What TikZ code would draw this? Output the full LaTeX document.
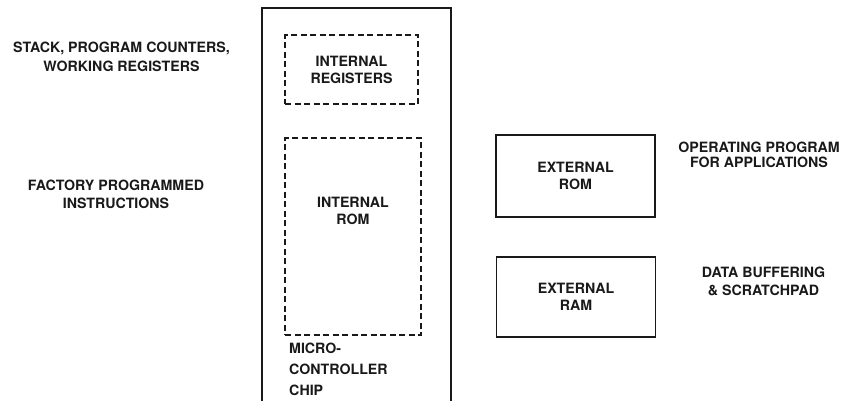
\documentclass[tikz,border=0pt]{standalone}
\usepackage{fontspec}
\setmainfont{TeX Gyre Heros}
\usepackage{tikz}
\usetikzlibrary{positioning}

\begin{document}
\begin{tikzpicture}[
  x=1pt, y=-1pt,
  every node/.style={font=\bfseries\fontsize{14.2}{17}\selectfont, text=black!90, align=center, inner sep=0pt},
  chipbox/.style={draw=black!90, line width=1.6pt, minimum width=189pt, minimum height=420pt},
  membox/.style={draw=black!90, line width=1.6pt, minimum width=159pt, minimum height=81pt},
  intbox/.style={draw=black!90, line width=1.3pt, dash pattern=on 6pt off 3.5pt},
  note/.style={text=black!90}
]
\useasboundingbox (0,0) rectangle (845,400);
\clip (0,0) rectangle (845,400);

% --- Microcontroller chip ---
\node[chipbox] (chip) at (356.5,218) {};
\node[intbox, minimum width=133pt, minimum height=69pt] (intreg) at (351.5,69.5) {INTERNAL\\REGISTERS};
\node[intbox, minimum width=136pt, minimum height=197pt] (introm) at (353,236.5) {};
\node (intromtext) at ([yshift=26pt]introm.center) {INTERNAL\\ROM};
\node[anchor=north west, align=left] (chiplabel) at (289,343) {MICRO-\\[4pt]CONTROLLER\\[4pt]CHIP};

% --- External memory ---
\node[membox, minimum height=82pt] (extrom) at (575.5,176) {EXTERNAL\\ROM};
\node[membox, minimum height=80pt] (extram) at (576,297) {EXTERNAL\\RAM};

% --- Notes ---
\node[note] (stacknote) at (121.5,57) {STACK, PROGRAM COUNTERS,\\[2pt]WORKING REGISTERS};
\node[note] (factnote) at (116,194.5) {FACTORY PROGRAMMED\\[1pt]INSTRUCTIONS};
\node[note] (opnote) at (759,154.5) {OPERATING PROGRAM\\[-2pt]FOR APPLICATIONS};
\node[note] (datanote) at (763.5,281) {DATA BUFFERING\\[1pt]\& SCRATCHPAD};

\end{tikzpicture}
\end{document}
